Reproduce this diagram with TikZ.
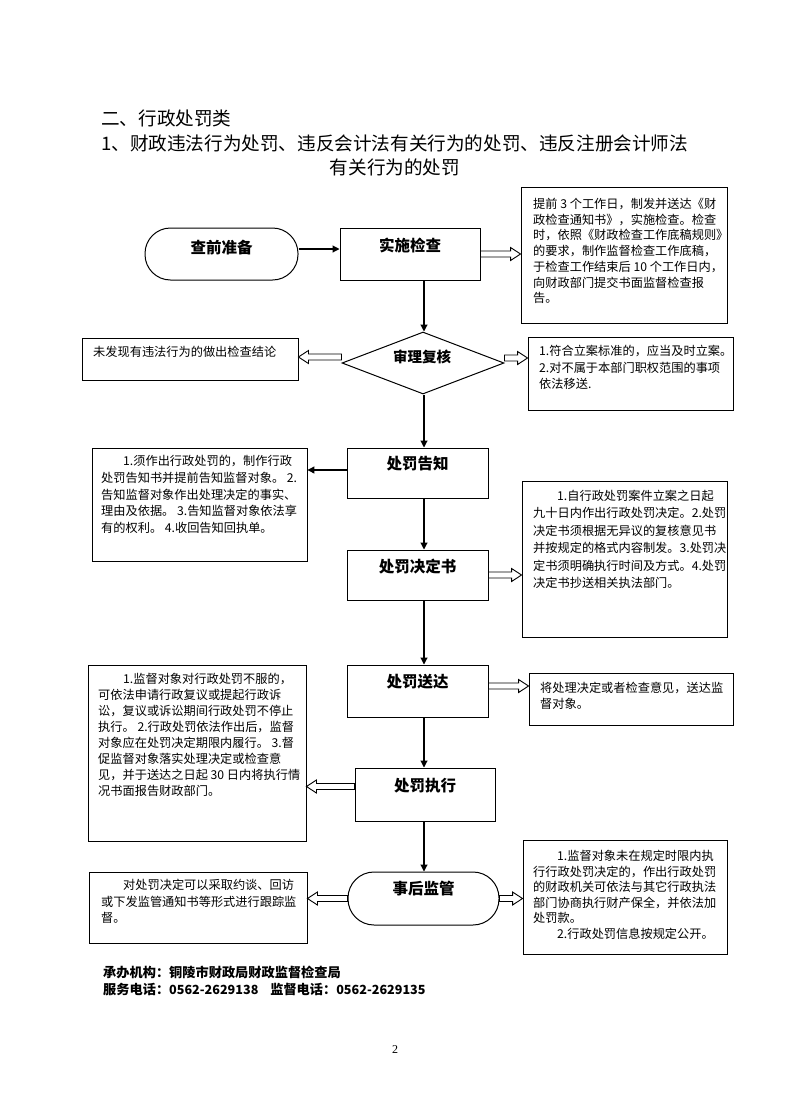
\documentclass[tikz,border=0pt]{standalone}
\usepackage{fontspec}
\setmainfont{Noto Sans CJK SC}
\newfontfamily\serifnum{Liberation Serif}
\usetikzlibrary{shapes.geometric,arrows.meta,calc}
\newcommand\hollowarrow[3]{%
  \draw[harrow] let \p1=#1, \p2=#2 in
    (\x1,{\y1+3pt}) -- ({\x2-(#3)},{\y1+3pt}) -- ({\x2-(#3)},{\y1+6.5pt}) -- (\x2,\y1)
    -- ({\x2-(#3)},{\y1-6.5pt}) -- ({\x2-(#3)},{\y1-3pt}) -- (\x1,{\y1-3pt}) -- cycle;}
\begin{document}
\begin{tikzpicture}[x=1pt,y=-1pt,
  box/.style={draw, line width=1pt, inner sep=0pt},
  note/.style={draw, line width=0.9pt, inner sep=0pt},
  lbl/.style={font=\bfseries\fontsize{15.5}{18}\selectfont, inner sep=0pt},
  ntext/.style={align=left, inner sep=0pt, anchor=north west},
  flow/.style={line width=1.1pt, -{Triangle[length=7pt,width=7pt]}},
  harrow/.style={draw, line width=0.9pt, fill=white},
  title/.style={font=\fontsize{18.6}{22}\selectfont, inner sep=0pt},
  foot/.style={font=\bfseries\fontsize{13.2}{16}\selectfont, inner sep=0pt, anchor=west},
]
\useasboundingbox (0,0) rectangle (790,1119);

% titles
\node[title, anchor=west] (t1) at (101,118) {二、行政处罚类};
\node[title, anchor=west] (t2) at (101,143) {1、财政违法行为处罚、违反会计法有关行为的处罚、违反注册会计师法};
\node[title] (t3) at (395,167) {有关行为的处罚};

\coordinate (ax) at (424,0);

% main flow
\node[box, rounded corners=25.5pt, minimum width=153pt, minimum height=52pt] (qian) at (221.5,254) {};
\node[lbl] (qiant) at (221.5,248) {查前准备};
\node[box, minimum width=140pt, minimum height=52pt] (shishi) at (410,254) {};
\node[lbl] (shishit) at (410,245) {实施检查};
\node[box, diamond, minimum width=162pt, minimum height=62pt] (shenhe) at (423,363) {};
\node[lbl, font=\bfseries\fontsize{14.5}{17}\selectfont] (shenhet) at (422,357) {审理复核};
\node[box, minimum width=141pt, minimum height=50pt] (gaozhi) at (417.5,473) {};
\node[lbl] (gaozhit) at (417.5,464) {处罚告知};
\node[box, minimum width=141pt, minimum height=50pt] (jueding) at (417.5,575) {};
\node[lbl] (juedingt) at (417.5,567) {处罚决定书};
\node[box, minimum width=141pt, minimum height=52pt] (songda) at (417.5,691) {};
\node[lbl] (songdat) at (417.5,682) {处罚送达};
\node[box, minimum width=140pt, minimum height=53pt] (zhixing) at (425,794.5) {};
\node[lbl] (zhixingt) at (425,786) {处罚执行};
\node[box, rounded corners=26pt, minimum width=151pt, minimum height=53pt] (shihou) at (423.5,898.5) {};
\node[lbl] (shihout) at (423.5,889) {事后监管};

% notes
\node[note, minimum width=206pt, minimum height=136pt] (n1) at (624,255) {};
\node[ntext, font=\fontsize{12.2}{15.7}\selectfont] (n1t) at (533,198) {提前 3 个工作日，制发并送达《财\\政检查通知书》，实施检查。检查\\时，依照《财政检查工作底稿规则》\\的要求，制作监督检查工作底稿，\\于检查工作结束后 10 个工作日内，\\向财政部门提交书面监督检查报\\告。};

\node[note, minimum width=216pt, minimum height=42pt] (n2) at (190,359) {};
\node[ntext, font=\fontsize{12.2}{16}\selectfont] (n2t) at (93,346) {未发现有违法行为的做出检查结论};

\node[note, minimum width=205pt, minimum height=73pt] (n3) at (630.5,373.5) {};
\node[ntext, font=\fontsize{12.2}{16.5}\selectfont] (n3t) at (539,345) {1.符合立案标准的，应当及时立案。\\2.对不属于本部门职权范围的事项\\依法移送.};

\node[note, minimum width=215pt, minimum height=113pt] (n4) at (199.5,504.5) {};
\node[ntext, font=\fontsize{12.2}{16.8}\selectfont] (n4t) at (101,455) {\hspace*{22pt}1.须作出行政处罚的，制作行政\\处罚告知书并提前告知监督对象。 2.\\告知监督对象作出处理决定的事实、\\理由及依据。 3.告知监督对象依法享\\有的权利。 4.收回告知回执单。};

\node[note, minimum width=205pt, minimum height=156pt] (n5) at (624.5,559) {};
\node[ntext, font=\fontsize{12.2}{17.4}\selectfont] (n5t) at (533,490) {\hspace*{24pt}1.自行政处罚案件立案之日起\\九十日内作出行政处罚决定。2.处罚\\决定书须根据无异议的复核意见书\\并按规定的格式内容制发。3.处罚决\\定书须明确执行时间及方式。4.处罚\\决定书抄送相关执法部门。};

\node[note, minimum width=204pt, minimum height=52pt] (n6) at (631,699) {};
\node[ntext, font=\fontsize{12.2}{16}\selectfont] (n6t) at (540,682) {将处理决定或者检查意见，送达监\\督对象。};

\node[note, minimum width=218pt, minimum height=176pt] (n7) at (197,753) {};
\node[ntext, font=\fontsize{12.2}{16}\selectfont] (n7t) at (98,673) {\hspace*{25pt}1.监督对象对行政处罚不服的，\\可依法申请行政复议或提起行政诉\\讼，复议或诉讼期间行政处罚不停止\\执行。 2.行政处罚依法作出后，监督\\对象应在处罚决定期限内履行。 3.督\\促监督对象落实处理决定或检查意\\见，并于送达之日起 30 日内将执行情\\况书面报告财政部门。};

\node[note, minimum width=218pt, minimum height=71pt] (n8) at (198,907.5) {};
\node[ntext, font=\fontsize{12.2}{16.5}\selectfont] (n8t) at (101,879) {\hspace*{22pt}对处罚决定可以采取约谈、回访\\或下发监管通知书等形式进行跟踪监\\督。};

\node[note, minimum width=204pt, minimum height=114pt] (n9) at (625,897) {};
\node[ntext, font=\fontsize{12.2}{15.6}\selectfont] (n9t) at (533,850) {\hspace*{24pt}1.监督对象未在规定时限内执\\行行政处罚决定的，作出行政处罚\\的财政机关可依法与其它行政执法\\部门协商执行财产保全，并依法加\\处罚款。\\\hspace*{24pt}2.行政处罚信息按规定公开。};

% connectors
\draw[flow] ([yshift=5pt]qian.east) -- ([yshift=5pt]shishi.west);
\draw[flow] (shishi.south -| ax) -- (shenhe.north -| ax);
\draw[flow] (shenhe.south -| ax) -- (gaozhi.north -| ax);
\draw[flow] (gaozhi.south -| ax) -- (jueding.north -| ax);
\draw[flow] (jueding.south -| ax) -- (songda.north -| ax);
\draw[flow] (songda.south -| ax) -- (zhixing.north -| ax);
\draw[flow] (zhixing.south -| ax) -- (shihou.north -| ax);
\coordinate (g4) at ([yshift=3pt]gaozhi.west);
\draw[flow] (g4) -- (g4 -| n4.east);

\hollowarrow{(shishi.east)}{(n1.west)}{10pt}
\hollowarrow{([yshift=6pt]shenhe.west)}{(n2.east)}{-10pt}
\hollowarrow{([yshift=5pt]shenhe.east)}{(n3.west)}{10pt}
\hollowarrow{(jueding.east)}{(n5.west)}{10pt}
\hollowarrow{([yshift=5pt]songda.east)}{(n6.west)}{10pt}
\hollowarrow{([yshift=8pt]zhixing.west)}{(n7.east)}{-10pt}
\hollowarrow{(shihou.west)}{(n8.east)}{-10pt}
\hollowarrow{(shihou.east)}{(n9.west)}{10pt}

% footer
\node[foot] (f1) at (103,972) {承办机构：铜陵市财政局财政监督检查局};
\node[foot] (f2) at (103,989) {服务电话：{\fontsize{12.6}{16}\selectfont 0562-2629138}\hspace{0.9em}监督电话：{\fontsize{12.6}{16}\selectfont 0562-2629135}};
\node[font=\serifnum\fontsize{12}{14}\selectfont, inner sep=0pt] (pg) at (395,1050) {2};
\end{tikzpicture}
\end{document}
